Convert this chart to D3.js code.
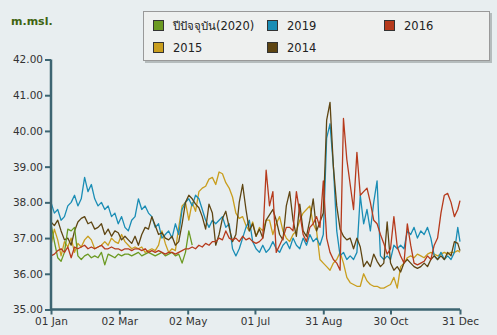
<!DOCTYPE html>
<html><head><meta charset="utf-8">
<script src="https://cdn.jsdelivr.net/npm/d3@7/dist/d3.min.js"></script>
<style>
html,body{margin:0;padding:0;background:#e8eef0;}
svg{display:block;}
text{font-family:"DejaVu Sans","Noto Sans",sans-serif;}
</style></head><body>
<svg id="chart" width="497" height="335"></svg>
<script>
// ---- data (sampled every 3 days from 01 Jan; last sample on 31 Dec) ----
const seriesNames = ["ปีปัจจุบัน(2020)", "2019", "2016", "2015", "2014"];
const seriesColors = ["#6b9a22", "#1a8db5", "#b63a1c", "#c99e1e", "#5e4512"];
const xTickLabels = ["01 Jan", "02 Mar", "02 May", "01 Jul", "31 Aug", "30 Oct", "31 Dec"];
const yTicks = [35, 36, 37, 38, 39, 40, 41, 42];
const sampleDays = d3.range(123).map(i => Math.min(3 * i, 365));

const y2020 = [37.4,36.9,36.45,36.35,36.6,37.25,37.2,37.3,36.5,36.4,
  36.5,36.55,36.45,36.5,36.45,36.6,36.25,36.55,36.5,36.45,
  36.55,36.5,36.55,36.55,36.5,36.55,36.6,36.5,36.55,36.6,
  36.55,36.5,36.55,36.6,36.5,36.55,36.6,36.5,36.55,36.3,
  36.6,37.2,36.8];
const y2019 = [38.0,37.7,37.8,37.5,37.6,37.9,38.0,38.2,37.9,38.1,
  38.7,38.3,38.5,38.1,37.9,38.0,37.8,37.9,37.6,37.7,
  37.4,37.6,37.3,37.2,37.5,37.6,38.1,37.8,37.9,37.7,
  37.6,37.3,37.4,37.0,37.1,37.2,37.0,37.4,37.1,37.8,
  38.0,38.1,37.9,38.2,38.1,37.8,37.5,37.3,37.5,37.4,
  37.5,37.6,37.3,37.4,36.7,36.5,36.7,37.0,37.3,37.5,
  36.9,36.7,36.6,36.8,36.6,36.7,36.9,36.7,36.6,36.8,
  36.9,36.7,37.0,36.8,36.7,37.0,36.8,37.1,36.9,37.0,
  36.8,37.1,39.8,40.2,39.0,37.2,36.5,36.6,36.4,36.5,
  36.4,36.6,38.2,37.4,37.8,37.2,38.0,38.6,36.5,36.4,
  36.5,36.4,36.8,36.7,36.8,36.7,37.2,37.1,37.3,37.0,
  37.2,37.1,37.3,37.0,36.5,36.4,36.6,36.4,36.5,36.4,
  36.6,37.3,36.9];
const y2016 = [36.5,36.55,36.65,36.7,36.6,36.75,36.45,36.75,36.7,36.75,
  36.8,36.7,36.75,36.7,36.75,36.8,36.7,36.7,36.75,36.7,
  36.7,36.65,36.7,36.7,36.65,36.7,36.7,36.65,36.7,36.6,
  36.65,36.6,36.65,36.6,36.55,36.6,36.6,36.55,36.6,36.65,
  36.7,36.7,36.75,36.7,36.8,36.75,36.85,36.8,36.9,36.9,
  37.0,36.95,37.2,37.0,36.95,37.0,36.9,37.05,36.95,37.0,
  36.9,36.85,36.9,37.0,38.9,37.9,38.3,36.6,36.8,37.0,
  37.3,37.3,37.2,38.3,37.7,37.1,36.9,37.3,37.4,37.6,
  37.3,38.6,37.0,36.6,36.4,36.3,36.1,40.35,39.2,38.5,
  37.8,39.4,38.2,38.3,38.4,38.0,37.5,37.4,37.1,36.85,
  36.55,36.7,37.6,36.75,36.5,36.3,37.4,36.8,36.3,36.25,
  36.3,36.35,36.5,36.4,36.8,37.0,37.7,38.2,38.25,38.0,
  37.6,37.8,38.05];
const y2015 = [36.8,37.25,36.95,36.5,36.9,36.75,37.0,36.6,36.85,36.75,
  36.95,37.05,36.95,36.7,36.75,36.8,36.9,36.8,37.0,36.9,
  36.85,37.1,36.9,36.8,36.7,36.75,36.7,36.75,36.6,36.65,
  36.7,36.65,36.8,37.2,36.85,36.6,36.7,36.65,37.3,37.9,
  38.0,37.5,38.0,37.75,38.3,38.4,38.45,38.65,38.7,38.5,
  38.85,38.8,38.55,38.4,38.15,37.7,37.55,37.6,37.35,37.2,
  37.45,37.05,37.3,37.2,37.5,37.5,37.1,37.4,37.6,37.2,
  37.0,36.9,37.1,37.2,37.5,37.7,37.8,37.9,37.4,37.2,
  36.4,36.3,36.2,36.1,36.3,36.4,36.6,36.3,35.9,35.75,
  35.7,35.65,35.65,36.0,35.8,35.7,35.65,35.65,35.6,35.6,
  35.65,35.7,35.9,35.6,36.2,36.3,36.45,36.5,36.45,36.55,
  36.5,36.45,36.55,36.6,36.55,36.5,36.55,36.6,36.55,36.6,
  36.6,36.65,36.6];
const y2014 = [37.45,37.35,37.5,37.2,36.95,37.0,36.8,37.2,37.45,37.55,
  37.6,37.4,37.45,37.25,37.3,37.4,37.1,37.25,37.05,37.2,
  37.15,36.95,37.05,36.95,36.85,37.05,36.8,37.1,37.3,37.25,
  37.6,37.35,37.1,37.15,37.0,36.95,37.05,36.8,36.9,37.4,
  38.0,38.2,38.1,37.95,37.85,37.6,37.25,37.95,37.7,36.8,
  37.1,37.55,37.75,37.3,36.9,37.1,38.0,38.5,37.8,37.2,
  37.4,37.05,37.25,37.0,37.5,37.65,37.8,37.5,37.1,36.95,
  37.9,38.3,37.5,37.05,37.95,37.2,37.05,37.5,38.1,37.2,
  37.45,37.7,40.3,40.8,39.0,37.9,37.25,37.05,36.95,37.0,
  36.7,37.0,36.75,36.2,36.35,36.2,36.55,36.35,36.2,36.3,
  37.45,36.3,36.1,36.2,36.05,36.3,36.4,36.3,36.2,36.15,
  36.2,36.3,36.2,36.4,36.5,36.4,36.5,36.4,36.6,36.5,
  36.9,36.85,36.65];

const seriesValues = [y2020, y2019, y2016, y2015, y2014];
const drawOrder = [3, 1, 4, 0, 2];

// ---- chart ----
const svg = d3.select("#chart");
const start = new Date(2020, 0, 1);
const end = new Date(2020, 11, 31);
const x = d3.scaleTime().domain([start, end]).range([51, 460]);
const y = d3.scaleLinear().domain([35, 42]).range([309.5, 59.5]);

const tickDates = xTickLabels.map(s => d3.timeParse("%d %b %Y")(s + " 2020"));

// lines
const line = d3.line()
  .defined(d => d.v != null)
  .x(d => x(d.date))
  .y(d => y(d.v));

drawOrder.forEach(si => {
  const vals = seriesValues[si];
  const pts = sampleDays.map((day, i) => ({date: d3.timeDay.offset(start, day), v: i < vals.length ? vals[i] : null}));
  svg.append("path")
    .datum(pts)
    .attr("fill", "none")
    .attr("stroke", seriesColors[si])
    .attr("stroke-width", 1.3)
    .attr("stroke-linejoin", "round")
    .attr("d", line);
});

// axes
const axisColor = "#3d6572";
const yAxis = svg.append("g").attr("transform", "translate(51,0)")
  .call(d3.axisLeft(y).tickValues(yTicks).tickFormat(d3.format(".2f")).tickSize(6).tickPadding(2));
const xAxis = svg.append("g").attr("transform", "translate(0,309.5)")
  .call(d3.axisBottom(x).tickValues(tickDates).tickFormat(d3.timeFormat("%d %b")).tickSize(5).tickPadding(3));
[yAxis, xAxis].forEach(g => {
  g.select(".domain").attr("stroke", axisColor).attr("stroke-width", 2.5);
  g.selectAll(".tick line").attr("stroke", axisColor).attr("stroke-width", 2);
  g.selectAll(".tick text").attr("fill", "#333").style("font-size", "10.5px").style("font-family", "'DejaVu Sans',sans-serif");
});
yAxis.select(".domain").attr("d", "M-6,59.5H0V309.5H-6").attr("d", `M0,${y(42)}V${y(35)}`);
xAxis.select(".domain").attr("d", `M51,0H460`);

// unit label
svg.append("text").attr("x", 11).attr("y", 25)
  .attr("fill", "#3f6410").style("font-weight", "bold").style("font-size", "11px")
  .text("m.msl.");

// legend
const lg = svg.append("g");
lg.append("rect").attr("x", 145).attr("y", 13).attr("width", 347).attr("height", 50).attr("fill", "#b5bcbd");
lg.append("rect").attr("x", 143.5).attr("y", 11.5).attr("width", 346).attr("height", 49)
  .attr("fill", "#eef0ef").attr("stroke", "#999").attr("stroke-width", 1);
const legendPos = [[153, 20], [267, 20], [384, 20], [153, 42], [267, 42]];
seriesNames.forEach((name, i) => {
  const [lx, ly] = legendPos[i];
  lg.append("rect").attr("x", lx + 0.5).attr("y", ly + 0.5).attr("width", 10).attr("height", 10)
    .attr("fill", seriesColors[i]).attr("stroke", "#333").attr("stroke-width", 1);
  lg.append("text").attr("x", lx + 20).attr("y", ly + 9.5)
    .attr("fill", "#222").style("font-size", "11.5px").text(name);
});
</script>
</body></html>
